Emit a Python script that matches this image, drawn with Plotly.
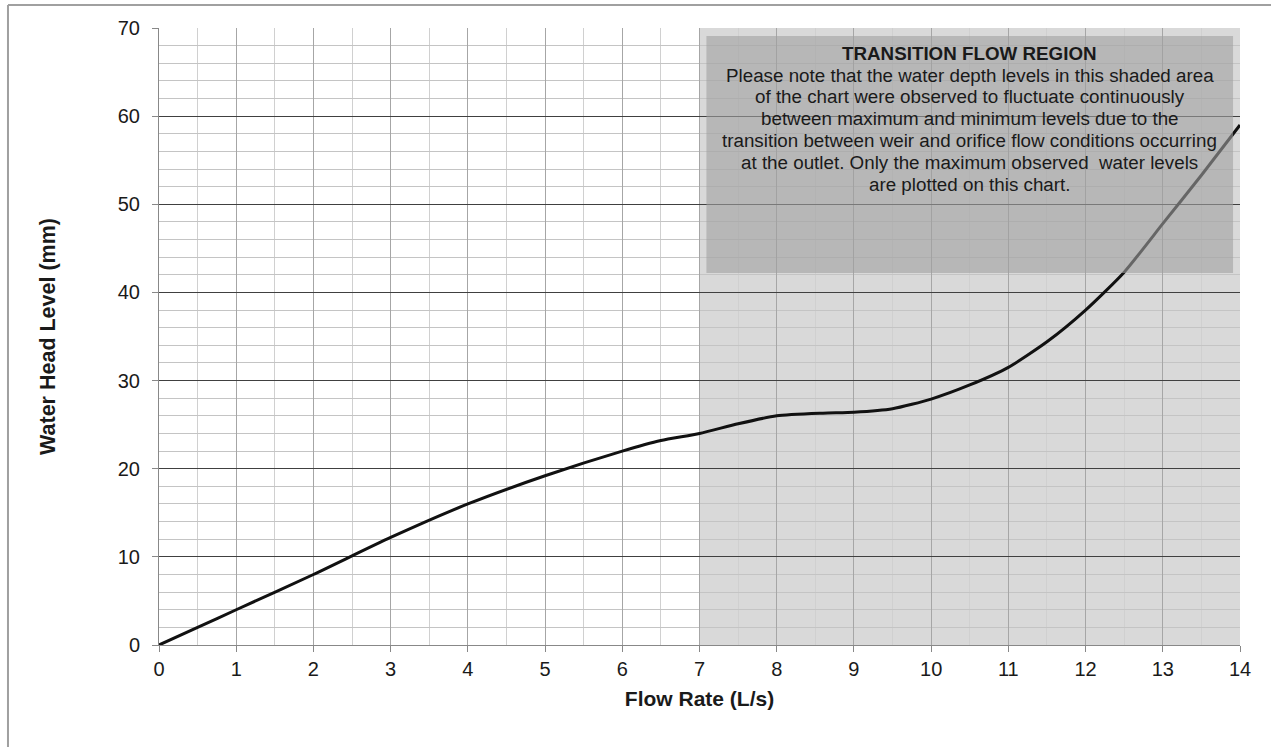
import plotly.graph_objects as go

flow_rate = [0, 0.5, 1, 2, 3, 4, 5, 6, 6.5, 7, 7.5, 8, 8.6, 9, 9.5, 10, 10.5, 11, 11.5, 12, 12.5, 13, 13.5, 14]
head_level = [0, 2, 4, 8, 12.2, 16, 19.2, 22, 23.2, 24, 25.1, 26, 26.3, 26.4, 26.8, 27.9, 29.5, 31.5, 34.4, 38, 42.3, 47.8, 53.3, 59]

x_ticks = list(range(0, 15))
y_ticks = list(range(0, 80, 10))

transition_start = 7
transition_end = 14

note_title = "TRANSITION FLOW REGION"
note_lines = [
    "Please note that the water depth levels in this shaded area",
    "of the chart were observed to fluctuate continuously",
    "between maximum and minimum levels due to the",
    "transition between weir and orifice flow conditions occurring",
    "at the outlet. Only the maximum observed  water levels",
    "are plotted on this chart.",
]

FONT = "Liberation Sans, Arial"

fig = go.Figure()
fig.add_trace(go.Scatter(
    x=flow_rate, y=head_level, mode="lines",
    line=dict(color="#111111", width=3, shape="spline", smoothing=0.6),
    showlegend=False, hoverinfo="skip",
))

# shaded transition region (under grid)
fig.add_shape(type="rect", xref="x", yref="y", x0=transition_start, x1=transition_end,
              y0=0, y1=70, fillcolor="#d9d9d9", line=dict(width=0), layer="below")
# semi-transparent note box above everything
fig.add_shape(type="rect", xref="x", yref="y", x0=7.09, x1=13.91, y0=42.2, y1=69.1,
              fillcolor="rgba(160,160,160,0.6)", line=dict(width=0), layer="above")

# note text: one annotation per line for Excel-like line spacing
all_lines = ["<b>" + note_title + "</b>"] + note_lines
first_line_y = 67.13
line_step = 2.473
for i, txt in enumerate(all_lines):
    fig.add_annotation(
        x=10.5, y=first_line_y - i * line_step, xref="x", yref="y",
        xanchor="center", yanchor="middle", text=txt, showarrow=False,
        font=dict(family=FONT, size=18.8, color="#1a1a1a"),
    )

# outer frame lines
fig.add_shape(type="line", xref="paper", yref="paper", x0=-0.1397, x1=1.06, y0=1.0373, y1=1.0373,
              line=dict(color="#a0a0a0", width=2), layer="above")
fig.add_shape(type="line", xref="paper", yref="paper", x0=-0.1397, x1=-0.1397, y0=-0.25, y1=1.0373,
              line=dict(color="#a0a0a0", width=2), layer="above")

fig.update_xaxes(
    range=[0, 14], tickvals=x_ticks, ticktext=[str(v) for v in x_ticks],
    showgrid=True, gridcolor="#a6a6a6", gridwidth=1,
    minor=dict(dtick=0.5, showgrid=True, gridcolor="#d0d0d0", gridwidth=1),
    ticks="outside", ticklen=6, tickcolor="#888888",
    showline=True, linecolor="#888888", linewidth=1, zeroline=False,
    tickfont=dict(family=FONT, size=20, color="#1a1a1a"),
    title=dict(text="<b>Flow Rate (L/s)</b>", font=dict(family=FONT, size=21, color="#1a1a1a"), standoff=12),
)
fig.update_yaxes(
    range=[0, 70], tickvals=y_ticks, ticktext=[str(v) for v in y_ticks],
    showgrid=True, gridcolor="#404040", gridwidth=1,
    minor=dict(dtick=2, showgrid=True, gridcolor="#c4c4c4", gridwidth=1),
    ticks="outside", ticklen=6, tickcolor="#888888", ticklabelstandoff=8,
    showline=True, linecolor="#888888", linewidth=1, zeroline=False,
    tickfont=dict(family=FONT, size=20, color="#1a1a1a"),
    title=dict(text="<b>Water Head Level (mm)</b>", font=dict(family=FONT, size=21.5, color="#1a1a1a"), standoff=56),
)

fig.update_layout(
    width=1271, height=747,
    margin=dict(l=159, r=31, t=28, b=102),
    plot_bgcolor="white", paper_bgcolor="white",
)

fig.write_html("out.html", config={"displayModeBar": False},
               post_script="document.body.style.margin='0';")
